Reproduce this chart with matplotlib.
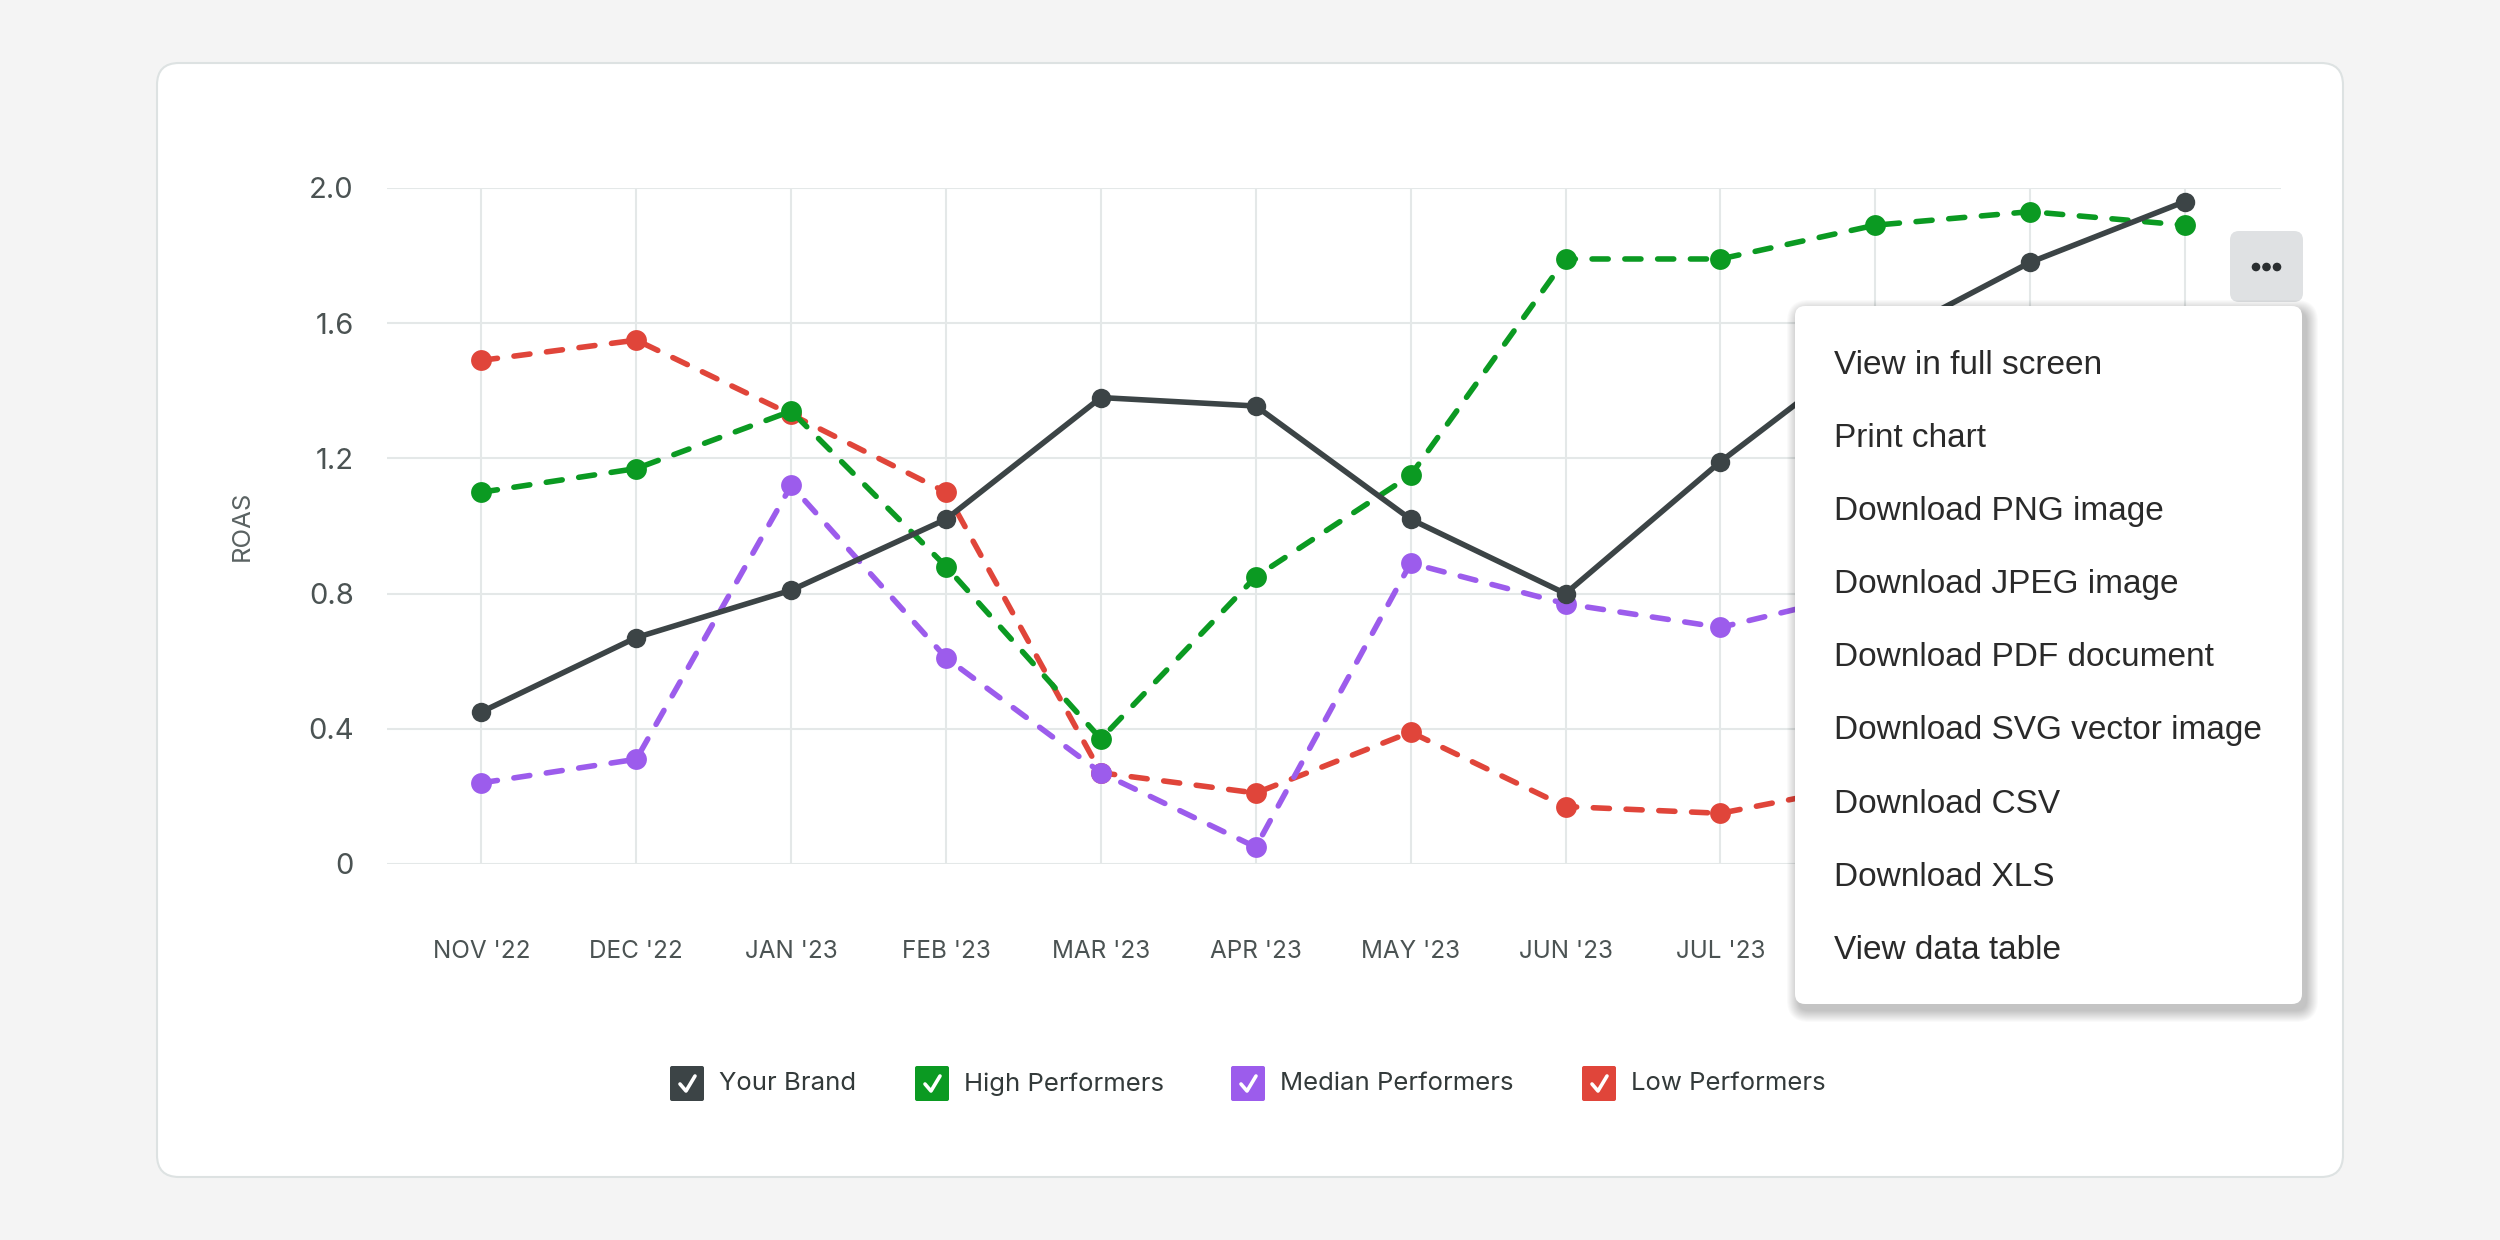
import matplotlib
matplotlib.use("Agg")
import matplotlib.pyplot as plt
from matplotlib.patches import FancyBboxPatch, Circle
from matplotlib.lines import Line2D
from matplotlib.transforms import IdentityTransform

# data
months = ["NOV '22", "DEC '22", "JAN '23", "FEB '23", "MAR '23", "APR '23",
          "MAY '23", "JUN '23", "JUL '23", "AUG '23", "SEP '23", "OCT '23"]
your_brand = [0.45, 0.67, 0.81, 1.02, 1.38, 1.355, 1.02, 0.80, 1.19, 1.54, 1.78, 1.96]
high_perf = [1.10, 1.17, 1.34, 0.88, 0.37, 0.85, 1.15, 1.79, 1.79, 1.89, 1.93, 1.89]
median_perf = [0.24, 0.31, 1.12, 0.61, 0.27, 0.05, 0.89, 0.77, 0.70, 0.81, 0.86, 0.92]
low_perf = [1.49, 1.55, 1.33, 1.10, 0.27, 0.21, 0.39, 0.17, 0.15, 0.24, 0.30, 0.33]
series_names = ["Your Brand", "High Performers", "Median Performers", "Low Performers"]
y_ticks = [0, 0.4, 0.8, 1.2, 1.6, 2.0]
y_tick_labels = ["0", "0.4", "0.8", "1.2", "1.6", "2.0"]
menu_items = ["View in full screen", "Print chart", "Download PNG image",
              "Download JPEG image", "Download PDF document",
              "Download SVG vector image", "Download CSV", "Download XLS",
              "View data table"]

colors = ["#3c4446", "#0b9a22", "#9c5cec", "#e0453a"]
W, H = 2500, 1240
px = IdentityTransform()

fig = plt.figure(figsize=(W / 100, H / 100), dpi=100)
fig.patch.set_facecolor("#f4f4f4")

# white card behind the chart
card = FancyBboxPatch((157, H - 1177), 2343 - 157, 1177 - 63,
                      boxstyle="round,pad=0,rounding_size=22", transform=px,
                      facecolor="white", edgecolor="#dde2e2", linewidth=1.5, zorder=-1)
fig.add_artist(card)

ax = fig.add_axes([387 / W, (H - 864) / H, (2281 - 387) / W, (864 - 188) / H])
ax.patch.set_visible(False)
x = list(range(len(months)))

all_series = [your_brand, high_perf, median_perf, low_perf]
styles = ["-", "--", "--", "--"]
zorders = [6, 5, 4, 3]
for vals, c, ls, z, name in zip(all_series, colors, styles, zorders, series_names):
    line, = ax.plot(x, vals, color=c, lw=4.0, ls=ls, marker="o", ms=15 if ls == "--" else 14,
                    markeredgewidth=0, zorder=z, clip_on=False, label=name,
                    solid_capstyle="round", dash_capstyle="round")
    if ls == "--":
        line.set_dashes((2.9, 3.0))

ax.set_xlim(-0.61, 11.62)
ax.set_ylim(0, 2.0)
ax.set_xticks(x)
ax.set_xticklabels(months)
ax.set_yticks(y_ticks)
ax.set_yticklabels(y_tick_labels)
for s in ax.spines.values():
    s.set_visible(False)
ax.grid(True, color="#e4e8e8", lw=1.5)
ax.set_axisbelow(True)
ax.tick_params(axis="x", length=0, pad=55, labelsize=17.5, labelcolor="#4b5353")
ax.tick_params(axis="y", length=0, pad=24, labelsize=21, labelcolor="#4b5353")
for lab in ax.get_xticklabels() + ax.get_yticklabels():
    lab.set_fontfamily("Inter")

fig.text(242, H - 526, "ROAS", transform=px, rotation=90, ha="center", va="center",
         fontsize=18.5, color="#5a6262", family="Inter")

# legend with checked boxes
legend_x = [670, 915, 1231, 1582]
legend_y = 1084
for lx, c, name in zip(legend_x, colors, series_names):
    fig.add_artist(FancyBboxPatch((lx, H - legend_y - 17), 34, 35,
                                  boxstyle="round,pad=0,rounding_size=2", transform=px,
                                  facecolor=c, edgecolor="none", zorder=2))
    fig.add_artist(Line2D([lx + 10, lx + 16, lx + 25],
                          [H - legend_y, H - legend_y - 7, H - legend_y + 8],
                          transform=px, color="white", lw=2.6, zorder=3,
                          solid_capstyle="round", solid_joinstyle="round"))
    fig.text(lx + 49, H - legend_y, name, transform=px, ha="left", va="center",
             fontsize=18.5, color="#333a3a", family="Inter")

# context menu button
fig.add_artist(FancyBboxPatch((2230, H - 302), 73, 71,
                              boxstyle="round,pad=0,rounding_size=9", transform=px,
                              facecolor="#dfe1e3", edgecolor="none", zorder=8))
for dx in (2256, 2266.5, 2277):
    fig.add_artist(Circle((dx, H - 267), 3.6, transform=px, color="#2b2f31", zorder=9))

# opened menu with soft shadow
mx0, my0, mx1, my1 = 1795, 306, 2302, 1004
for i in range(12, 0, -1):
    fig.add_artist(FancyBboxPatch((mx0 - i + 4, H - my1 - i - 6), mx1 - mx0 + 2 * i, my1 - my0 + 2 * i,
                                  boxstyle="round,pad=0,rounding_size=%d" % (10 + i),
                                  transform=px, facecolor="black", edgecolor="none",
                                  alpha=0.02, zorder=10))
fig.add_artist(FancyBboxPatch((mx0, H - my1), mx1 - mx0, my1 - my0,
                              boxstyle="round,pad=0,rounding_size=10", transform=px,
                              facecolor="white", edgecolor="none", zorder=11))
for i, item in enumerate(menu_items):
    fig.text(1834, H - (362 + 73.1 * i) - 12, item, transform=px, ha="left", va="baseline",
             fontsize=24, color="#2a2a2a", family="Liberation Sans", zorder=12)

# month labels that sit under the open menu are covered in the original
for i, lab in enumerate(ax.get_xticklabels()):
    if ax.transData.transform((i, 0))[0] > mx0 - 40:
        lab.set_visible(False)

fig.savefig("out.png", dpi=100, facecolor=fig.get_facecolor())
